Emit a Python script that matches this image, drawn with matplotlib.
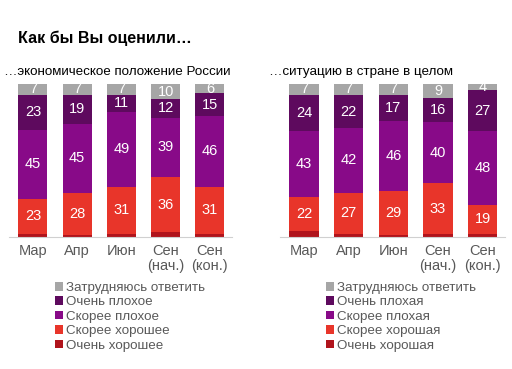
import matplotlib
matplotlib.use("Agg")
import matplotlib.pyplot as plt
from matplotlib.patches import Patch
import numpy as np

plt.rcParams['font.family'] = ['Liberation Sans', 'DejaVu Sans']

categories = ["Мар", "Апр", "Июн", "Сен\n(нач.)", "Сен\n(кон.)"]

# Left panel: economic situation
econ_very_good = [2, 1, 2, 3, 2]
econ_rather_good = [23, 28, 31, 36, 31]
econ_rather_bad = [45, 45, 49, 39, 46]
econ_very_bad = [23, 19, 11, 12, 15]
econ_hard = [7, 7, 7, 10, 6]

# Right panel: situation in the country
country_very_good = [4, 2, 1, 2, 2]
country_rather_good = [22, 27, 29, 33, 19]
country_rather_bad = [43, 42, 46, 40, 48]
country_very_bad = [24, 22, 17, 16, 27]
country_hard = [7, 7, 7, 9, 4]

econ_labels = ["Затрудняюсь ответить", "Очень плохое", "Скорее плохое",
               "Скорее хорошее", "Очень хорошее"]
country_labels = ["Затрудняюсь ответить", "Очень плохая", "Скорее плохая",
                  "Скорее хорошая", "Очень хорошая"]

C_HARD = "#A6A6A6"
C_VBAD = "#5E0A5E"
C_RBAD = "#880A88"
C_RGOOD = "#E8352A"
C_VGOOD = "#B0141C"
TXT = "#595959"

W, H = 512, 369
fig = plt.figure(figsize=(W / 100, H / 100), dpi=100)

def draw(ax_rect, series):
    ax = fig.add_axes(ax_rect)
    x = np.arange(len(categories))
    bottom = np.zeros(len(categories))
    colors = [C_VGOOD, C_RGOOD, C_RBAD, C_VBAD, C_HARD]
    for i, (vals, col) in enumerate(zip(series, colors)):
        vals = np.array(vals, dtype=float)
        ax.bar(x, vals, bottom=bottom, width=0.66, color=col, edgecolor="none")
        if i > 0:
            for xi, b, v in zip(x, bottom, vals):
                ax.text(xi, b + v / 2, f"{int(v)}", ha="center", va="center",
                        color="white", fontsize=10.5)
        bottom += vals
    ax.set_ylim(0, 100)
    ax.set_xlim(-0.54, 4.5)
    for s in ["top", "right", "left"]:
        ax.spines[s].set_visible(False)
    ax.spines["bottom"].set_color("#D0D0D0")
    ax.set_yticks([])
    ax.set_xticks(x)
    ax.set_xticklabels(categories, color=TXT, fontsize=10.5, linespacing=1.12)
    ax.tick_params(axis="x", length=0, pad=5)
    ax.patch.set_alpha(0)
    return ax

bot = (H - 237) / H
hgt = 153 / H
draw([9 / W, bot, 223 / W, hgt],
     [econ_very_good, econ_rather_good, econ_rather_bad, econ_very_bad, econ_hard])
draw([280 / W, bot, 225 / W, hgt],
     [country_very_good, country_rather_good, country_rather_bad, country_very_bad, country_hard])

fig.text(18 / W, 1 - 38 / H, "Как бы Вы оценили…", fontsize=11.5, fontweight="bold",
         color="black", va="center", ha="left")
fig.text(4 / W, 1 - 72 / H, "…экономическое положение России", fontsize=9.6,
         color="black", va="center", ha="left")
fig.text(269 / W, 1 - 72 / H, "…ситуацию в стране в целом", fontsize=9.6,
         color="black", va="center", ha="left")

leg_colors = [C_HARD, C_VBAD, C_RBAD, C_RGOOD, C_VGOOD]
for labels, xpos in [(econ_labels, 55), (country_labels, 326)]:
    handles = [Patch(facecolor=c, edgecolor="none") for c in leg_colors]
    fig.legend(handles, labels, loc="upper left",
               bbox_to_anchor=(xpos / W, 1 - 282 / H), frameon=False,
               handlelength=0.6, handleheight=0.6, handletextpad=0.25,
               labelspacing=0.18, fontsize=9.6, labelcolor=TXT, borderpad=0,
               borderaxespad=0)

fig.savefig("out.png", dpi=100)
